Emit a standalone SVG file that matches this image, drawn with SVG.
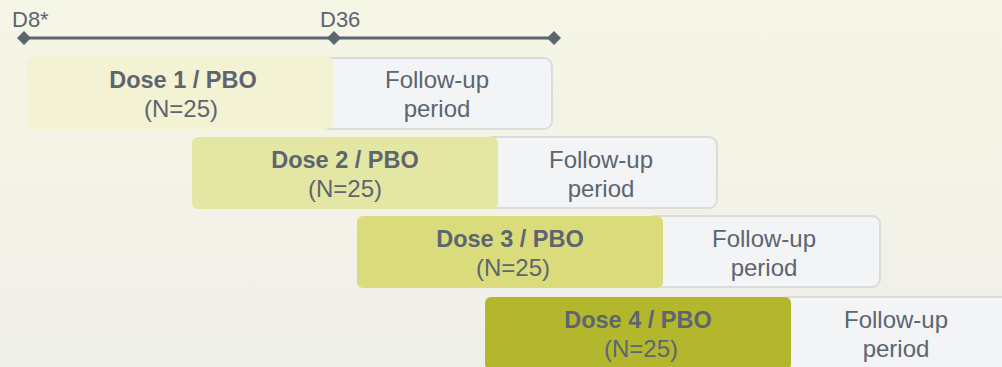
<svg xmlns="http://www.w3.org/2000/svg" width="1002" height="367" viewBox="0 0 1002 367">
<defs>
<linearGradient id="bg" x1="0" y1="0" x2="0" y2="1">
<stop offset="0" stop-color="#f6f6e5"/>
<stop offset="1" stop-color="#efefe9"/>
</linearGradient>
<marker id="dia" viewBox="-7 -7 14 14" markerWidth="14" markerHeight="14" markerUnits="userSpaceOnUse" refX="0" refY="0" orient="0">
<path d="M0,-7 L7,0 L0,7 L-7,0 Z" fill="#5a6570"/>
</marker>
<style>
.t{font-family:"Liberation Sans",Arial,sans-serif;fill:#5c6570;text-anchor:middle}
.b{font-size:23.5px;font-weight:bold}
.r{font-size:24px}
.lab{font-family:"Liberation Sans",Arial,sans-serif;fill:#5c6570;font-size:22px}
.fu{fill:#f3f4f6;stroke:#dadbdd;stroke-width:2}
</style>
</defs>
<rect width="1002" height="367" fill="url(#bg)"/>
<g id="connectors">
<path d="M24,38 L334,38 L554,38" stroke="#5a6570" stroke-width="3" fill="none" marker-start="url(#dia)" marker-mid="url(#dia)" marker-end="url(#dia)"/>
</g>
<g id="timeline-labels">
<text class="lab" x="12" y="27">D8*</text>
<text class="lab" x="320" y="27">D36</text>
</g>
<g id="row1">
<rect class="fu" x="319" y="58" width="233" height="71" rx="8"/>
<rect x="27" y="57" width="306" height="72" rx="6" fill="#f3f2d3"/>
<text class="t b" x="183" y="88">Dose 1 / PBO</text>
<text class="t r" x="181" y="117">(N=25)</text>
<text class="t r" x="437" y="88">Follow-up</text>
<text class="t r" x="437" y="117">period</text>
</g>
<g id="row2">
<rect class="fu" x="484" y="137" width="233" height="71" rx="8"/>
<rect x="192" y="137" width="306" height="72" rx="6" fill="#e4e6a4"/>
<text class="t b" x="345" y="168">Dose 2 / PBO</text>
<text class="t r" x="345" y="197">(N=25)</text>
<text class="t r" x="601" y="168">Follow-up</text>
<text class="t r" x="601" y="197">period</text>
</g>
<g id="row3">
<rect class="fu" x="647" y="216" width="233" height="71" rx="8"/>
<rect x="357" y="216" width="306" height="72" rx="6" fill="#dadc7b"/>
<text class="t b" x="510" y="247">Dose 3 / PBO</text>
<text class="t r" x="513" y="276">(N=25)</text>
<text class="t r" x="764" y="247">Follow-up</text>
<text class="t r" x="764" y="276">period</text>
</g>
<g id="row4">
<rect class="fu" x="780" y="297" width="233" height="72" rx="8"/>
<rect x="485" y="297" width="306" height="73" rx="6" fill="#b3b72e"/>
<text class="t b" x="638" y="328">Dose 4 / PBO</text>
<text class="t r" x="641" y="357">(N=25)</text>
<text class="t r" x="896" y="328">Follow-up</text>
<text class="t r" x="896" y="357">period</text>
</g>
</svg>
